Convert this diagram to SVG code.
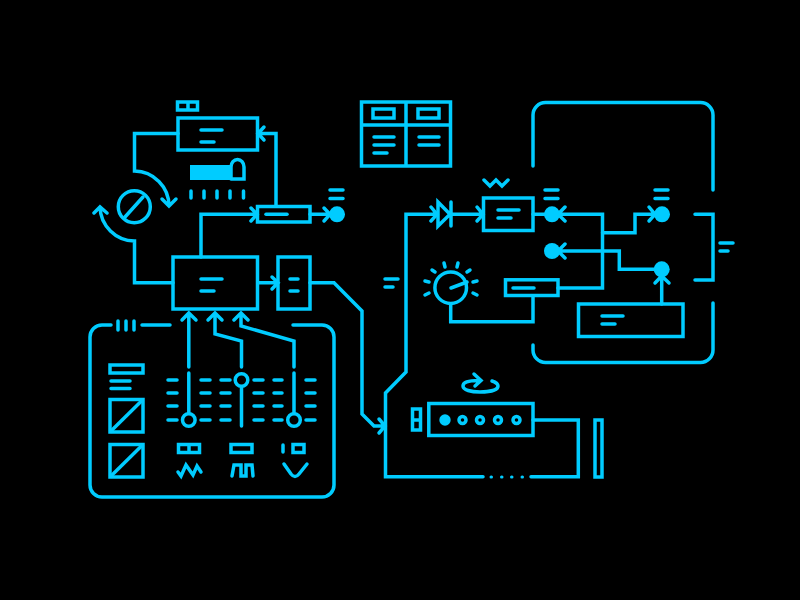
<svg xmlns="http://www.w3.org/2000/svg" width="800" height="600" viewBox="0 0 800 600">
<style>
.l{fill:none;stroke:#00ccff;stroke-width:3.500;stroke-linecap:round;stroke-linejoin:miter}
.r{fill:none;stroke:#00ccff;stroke-width:3.500;stroke-linejoin:miter}
.d{fill:#00ccff;stroke:none}
</style>
<rect width="800" height="600" fill="#000"/>
<g id="connectors" class="l">
<path d="M178 133.500H134.500V171A35 35 0 0 1 169 206M162 199L169 206L176 199"/>
<path d="M173 282.800H134.500V241A35 35 0 0 1 100 207M94 213L100 207L107 213"/>
<path d="M276 206V133.500H258M264 127L258 133.500L264 140"/>
<path d="M201 257V214.300H257M251 208L257 214.300L251 221"/>
<path d="M310 214.300H330M324 208L330 214.300L324 221"/>
<path d="M258 282.800H278M272 277L278 282.800L272 289"/>
<path d="M310 282.800H334L362 311V414L374 426H385M379 419L385 426L379 433"/>
<path d="M188.800 367V313M182 320L188.800 313L196 320"/>
<path d="M241.500 367V341L215 334V313M208 320L215 313L222 320"/>
<path d="M294 367V341L241 326V313M234 320L241 313L248 320"/>
<path d="M483 476.700H385.500V393L406 372V214.300H435M431 207L437 214.300L431 221"/>
<path d="M451 214.300H483M477 207L483 214.300L477 221"/>
<path d="M533 214.300H558M565 207L558 214.300L565 221M558 214.300H602.500V288H558"/>
<path d="M533 296V321.700H450.700V304"/>
<path d="M602.500 232.700H635V214.300H655M649 207L655 214.300L649 221"/>
<path d="M558 251H619.300V269.300H655M565 244L558 251L565 258"/>
<path d="M661.700 304V276M655 283L661.700 276L669 283"/>
<path d="M531 476.700H578.300V420H533"/>
</g>
<g id="top-box" class="r"><rect x="178" y="118" width="79.500" height="32"/><path class="l" d="M201 130H222M201 142H214"/><rect x="177.500" y="102" width="20" height="8"/><path d="M188 102V110"/></g>
<g id="heater"><path class="d" d="M190 165H231V180H190Z"/><path class="l" d="M231 179V167A6.500 7.500 0 0 1 244 167V179H231M191 191V198M204 191V198M217 191V198M230 191V198M243.500 191V198"/></g>
<g id="no-sign" class="l"><circle cx="134.300" cy="206.700" r="16"/><path d="M125 217L143 197"/></g>
<g id="small-left" class="r"><rect x="257.500" y="206.500" width="52.500" height="15.500"/><path class="l" d="M266 214.300H287"/></g>
<g id="out-1"><circle class="d" cx="337" cy="214.300" r="8"/><path class="l" d="M330 190H343M330 198.500H343"/></g>
<g id="main-box" class="r"><rect x="173" y="257" width="84.500" height="52"/><path class="l" d="M201 279H222M201 291H214"/></g>
<g id="side-box" class="r"><rect x="278" y="257" width="32" height="52"/><path class="l" d="M290 279H298M290 291H298"/></g>
<g id="panel" class="l">
<path d="M111 325H102A12 12 0 0 0 90 337V485A12 12 0 0 0 102 497H322A12 12 0 0 0 334 485V337A12 12 0 0 0 322 325H293M142 325H170M118 321V330M126 321V330M134 321V330"/>
<path d="M168 380H177M201 380H210M221 380H230M254 380H263M274 380H282M306 380H315M168 393H177M201 393H210M221 393H230M254 393H263M274 393H282M306 393H315M168 406H177M201 406H210M221 406H230M254 406H263M274 406H282M306 406H315M168 420H177M201 420H210M221 420H230M254 420H263M274 420H282M306 420H315"/>
<path d="M188.800 373V413M241.500 387V426M294 373V413"/>
<circle cx="188.800" cy="420" r="6.300"/><circle cx="241.500" cy="380" r="6.300"/><circle cx="294" cy="420" r="6.300"/>
<path d="M111 381H130M111 388.500H130"/>
</g>
<g id="panel-items" class="r">
<rect x="110" y="365" width="33" height="8"/>
<rect x="110" y="399.500" width="33" height="32.500"/><path d="M110 432L143 399.500"/>
<rect x="110" y="444.500" width="33" height="32.500"/><path d="M110 477L143 444.500"/>
<rect x="178.500" y="444.500" width="21" height="8"/><path d="M189 444.500V452.500"/>
<rect x="231" y="444.500" width="21" height="8"/>
<rect x="293" y="444.500" width="11" height="8"/><path class="l" d="M283 445V452"/>
<path class="l" d="M178 472L181 476L186 465L193 475L197 466L201 472"/>
<path class="l" d="M232 476L234 465H241V476H246V465H252L253 476"/>
<path class="l" d="M284 464L291 474Q295 479 299 474L307 464"/>
</g>
<g id="table" class="r"><rect x="361.500" y="102" width="89" height="64"/><path d="M361.500 125H450.500M406 102V166"/><rect x="373" y="109" width="21" height="9"/><rect x="418" y="109" width="21" height="9"/><path class="l" d="M374 137H394M374 145H394M374 153H387M419 137H439M419 145H439"/></g>
<g id="diode" class="l"><path d="M438 202L450 214.300L438 226ZM451 202V226"/></g>
<g id="filter-box" class="r"><rect x="483.500" y="198" width="49.500" height="32.500"/><path class="l" d="M498 210H519M498 218H511M484 180L490 186L496 180L502 186L508 180"/></g>
<g id="out-2"><circle class="d" cx="552" cy="214.300" r="8"/><path class="l" d="M545 190H558M545 198.500H558"/></g>
<g id="out-3"><circle class="d" cx="552" cy="251" r="8"/></g>
<g id="out-4"><circle class="d" cx="662" cy="214.300" r="8"/><path class="l" d="M655 190H668M655 198.500H668"/></g>
<g id="out-5"><circle class="d" cx="661.700" cy="269.300" r="8"/></g>
<g id="gauge" class="l"><circle cx="450.700" cy="287.700" r="15.800"/><path d="M451 288L467 282M444 263L445 267M458 263L457 267M432 270L435 272M470 270L467 272M425 281L429 282M477 281L473 282M425 295L429 293M477 295L473 293"/></g>
<g id="small-right" class="r"><rect x="505.500" y="279.800" width="52.500" height="15.700"/><path class="l" d="M513 288H534"/></g>
<g id="note-1" class="l"><path d="M385 279H398M385 287H393"/></g>
<g id="frame" class="l"><path d="M533 166V115A12.500 12.500 0 0 1 545.500 102.500H700.500A12.500 12.500 0 0 1 713 115V190M695 214.300H713V280H695M713 303V350A12.500 12.500 0 0 1 700.500 362.500H545.500A12.500 12.500 0 0 1 533 350V345M720 243H733M720 251H728"/></g>
<g id="lower-box" class="r"><rect x="578.500" y="304" width="104.500" height="32.500"/><path class="l" d="M602 316H623M602 324H615"/></g>
<g id="device" class="r"><rect x="428.800" y="403.500" width="104.200" height="32"/><circle class="d" cx="445" cy="420" r="5.700"/><circle cx="462.500" cy="420" r="3.500"/><circle cx="480" cy="420" r="3.500"/><circle cx="498" cy="420" r="3.500"/><circle cx="516.500" cy="420" r="3.500"/><rect x="412.500" y="409" width="8" height="21"/><path d="M412 420H421"/></g>
<g id="rotate" class="l"><path d="M481 380.500C467 380 463 383 463 386C463 390 471 392 480 392C490 392 498 390 498 386C498 384 495 382 492 381M474 374L481 380.500L475 386"/></g>
<g id="dots" class="l"><path d="M491 477H491.500M501.500 477H502M511.500 477H512M522 477H522.500" stroke-width="3"/></g>
<g id="bar" class="r"><rect x="595" y="420" width="7" height="57"/></g>
</svg>
